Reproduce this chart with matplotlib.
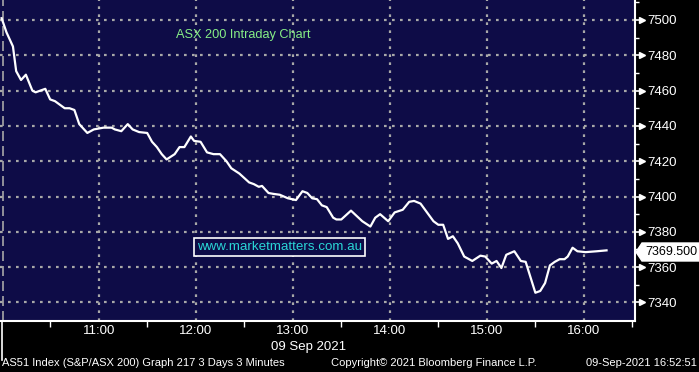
import matplotlib
matplotlib.use("Agg")
from matplotlib import pyplot as plt
from matplotlib.patches import Polygon

# intraday prices, ASX 200, 09 Sep 2021
times = ["10:00", "10:03", "10:07", "10:09", "10:12", "10:15", "10:19", "10:21", "10:27", "10:30",
         "10:33", "10:39", "10:42", "10:45", "10:48", "10:53", "10:57", "11:03", "11:08", "11:10",
         "11:14", "11:18", "11:21", "11:25", "11:30", "11:33", "11:36", "11:39", "11:42", "11:47",
         "11:50", "11:53", "11:57", "11:59", "12:03", "12:07", "12:11", "12:15", "12:17", "12:19",
         "12:22", "12:27", "12:33", "12:36", "12:39", "12:41", "12:45", "12:48", "12:52", "12:57",
         "13:02", "13:06", "13:09", "13:12", "13:15", "13:18", "13:21", "13:25", "13:27", "13:30",
         "13:36", "13:43", "13:48", "13:51", "13:54", "13:59", "14:03", "14:08", "14:12", "14:15",
         "14:19", "14:23", "14:27", "14:30", "14:33", "14:36", "14:39", "14:42", "14:46", "14:51",
         "14:56", "14:59", "15:03", "15:06", "15:09", "15:12", "15:17", "15:21", "15:24", "15:30",
         "15:33", "15:36", "15:39", "15:42", "15:45", "15:48", "15:50", "15:53", "15:56", "16:01",
         "16:08", "16:14"]
prices = [7501, 7493, 7485, 7471, 7466, 7469, 7460, 7459, 7461, 7455,
          7454, 7450, 7450, 7449, 7441, 7436, 7438, 7439, 7439, 7438,
          7437, 7441, 7438, 7436.5, 7436, 7431, 7428, 7424, 7421, 7424,
          7428, 7428, 7434, 7431.5, 7431, 7425, 7424, 7424, 7422, 7420,
          7416, 7413, 7408, 7407, 7405.5, 7406, 7402, 7401.5, 7401, 7399,
          7398, 7403, 7402, 7399, 7398.5, 7395, 7394, 7388, 7387, 7387,
          7392, 7386, 7383, 7388, 7390, 7386, 7391, 7392.5, 7397, 7397.5,
          7396, 7391, 7386, 7384, 7384, 7376, 7377.5, 7373.5, 7366, 7363.5,
          7366.5, 7366, 7362, 7363.5, 7359.5, 7367, 7369, 7363.5, 7363, 7345.5,
          7346.5, 7351, 7361, 7363, 7364.5, 7364.5, 7366, 7371, 7369, 7368.5,
          7369, 7369.5]
last_price = "7369.500"
hour_labels = ["11:00", "12:00", "13:00", "14:00", "15:00", "16:00"]
y_ticks = [7340, 7360, 7380, 7400, 7420, 7440, 7460, 7480, 7500]

def to_min(s):
    h, m = s.split(":")
    return int(h) * 60 + int(m)

x = [to_min(t) for t in times]

navy = "#0e0c47"
grid_col = "#a8a8a8"
fam = ["Liberation Sans", "DejaVu Sans"]

fig = plt.figure(figsize=(6.99, 3.72), dpi=100, facecolor="black")
ax = fig.add_axes([0, 51 / 372, 635 / 699, 321 / 372], facecolor=navy)

ax.plot(x, prices, color="white", lw=1.6, zorder=3, solid_joinstyle="round")

ax.set_xlim(599, 991.6)
ax.set_ylim(7329.5, 7511.3)

hour_pos = [to_min(h) for h in hour_labels]
ax.set_xticks(hour_pos)
ax.set_xticklabels(hour_labels, family=fam, fontsize=9.5, color="white")
ax.set_xticks([to_min("10:30") + 60 * i for i in range(7)], minor=True)
ax.tick_params(axis="x", which="major", length=0, pad=3)
ax.tick_params(axis="x", which="minor", length=4, width=1, color="white", direction="out")

ax.yaxis.tick_right()
ax.set_yticks(y_ticks)
ax.set_yticklabels([str(v) for v in y_ticks], family=fam, fontsize=9.5, color="white")
ax.set_yticks([v + 10 for v in y_ticks], minor=True)
ax.tick_params(axis="y", which="major", length=6, width=1.2, color="white", pad=3)
ax.tick_params(axis="y", which="minor", length=3, width=1, color="white")
# little arrow heads on the price ticks
ax.plot([1.011] * len(y_ticks), y_ticks, ls="none", marker=">", ms=4, color="white",
        transform=ax.get_yaxis_transform(), clip_on=False)

ax.grid(True, which="major", color=grid_col, ls=(0, (1.2, 2.4)), lw=1.6)

for s in ["top", "left"]:
    ax.spines[s].set_visible(False)
ax.spines["right"].set_color("white")
ax.spines["bottom"].set_color("white")
ax.spines["right"].set_linewidth(1.5)
ax.spines["bottom"].set_linewidth(1.5)

# start-of-day separator
ax.axvline(601, color=grid_col, ls=(0, (6, 3)), lw=1.2)
fig.add_artist(plt.Line2D([2 / 699, 2 / 699], [12 / 372, 51 / 372], color="white", lw=1.2))

ax.text(176 / 635, 1 - 35 / 321, "ASX 200 Intraday Chart", transform=ax.transAxes,
        color="#86ee86", family=fam, fontsize=9.2, ha="left", va="center")

ax.text(197 / 635, 1 - 247 / 321, "www.marketmatters.com.au", transform=ax.transAxes,
        color="#2ad6d6", family=fam, fontsize=9.6, ha="left", va="center",
        bbox=dict(boxstyle="square,pad=0.2", fc=navy, ec="white", lw=1.2))

# last value tag
fig.text(697 / 699, 1 - 252 / 372, last_price, color="black", family=fam, fontsize=9,
         ha="right", va="center", zorder=5)
tag = Polygon([[636 / 699, 1 - 252 / 372], [642 / 699, 1 - 243 / 372], [699 / 699, 1 - 243 / 372],
               [699 / 699, 1 - 261 / 372], [642 / 699, 1 - 261 / 372]],
              closed=True, transform=fig.transFigure, fc="white", ec="white", zorder=4)
fig.add_artist(tag)

fig.text(309 / 699, 1 - 347 / 372, "09 Sep 2021", color="white",
         family=fam, fontsize=9.5, ha="center", va="center")

fig.text(2 / 699, 1 - 363 / 372, "AS51 Index (S&P/ASX 200) Graph 217 3 Days 3 Minutes",
         color="white", family=fam, fontsize=8, ha="left", va="center")
fig.text(434 / 699, 1 - 363 / 372, "Copyright\u00a9 2021 Bloomberg Finance L.P.",
         color="white", family=fam, fontsize=8, ha="center", va="center")
fig.text(697 / 699, 1 - 363 / 372, "09-Sep-2021 16:52:51",
         color="white", family=fam, fontsize=8, ha="right", va="center")

fig.savefig("out.png", dpi=100, facecolor="black")
